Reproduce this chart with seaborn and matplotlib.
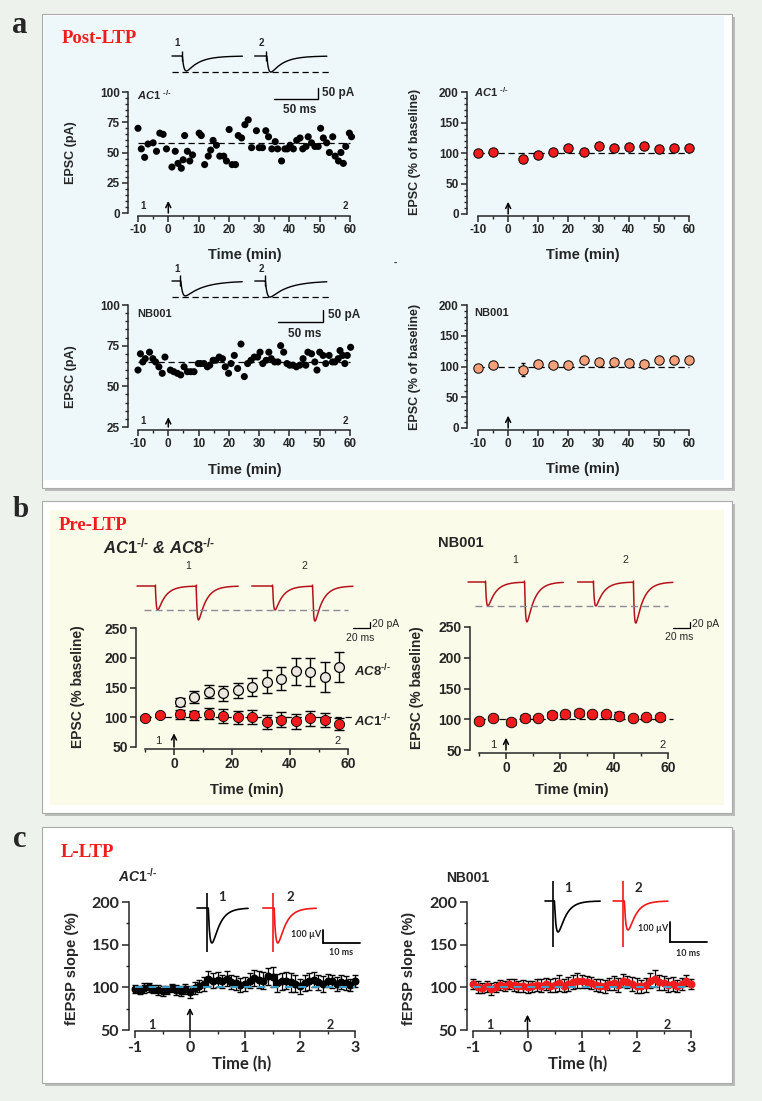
import numpy as np
import pandas as pd
import matplotlib
matplotlib.use("Agg")
import matplotlib.pyplot as plt
import seaborn as sns
from matplotlib.patches import Rectangle
from matplotlib.ticker import MultipleLocator

W, H = 762, 1101

# ---------------- data ----------------
# a) post-LTP, single cell examples (min, pA)
ac1_cell_t = [-10.0, -8.9, -7.8, -6.7, -5.0, -3.9, -2.8, -1.7, -0.6,
              1.2, 2.3, 3.2, 4.3, 4.9, 5.4, 6.3, 7.1, 8.0,
              10.2, 10.9, 12.0, 13.2, 14.0, 14.8, 15.9, 17.0, 18.3, 19.2,
              20.1, 21.1, 22.2, 23.1, 24.2, 25.3, 26.4, 27.5, 29.1,
              30.0, 31.1, 32.2, 33.1, 34.2, 35.3, 36.1, 37.4, 38.5, 39.3,
              40.2, 41.3, 42.4, 43.5, 44.4, 45.5, 46.2, 47.3, 48.4, 49.5,
              50.3, 51.2, 52.3, 53.2, 54.3, 55.1, 56.2, 57.0, 57.8, 58.6, 59.8, 60.5]
ac1_cell_pa = [70, 53, 46, 57, 58, 51, 66, 65, 53,
               38, 51, 41, 37, 44, 64, 51, 43, 48,
               66, 64, 40, 47, 52, 60, 56, 47, 47, 43,
               69, 40, 40, 64, 62, 73, 77, 54, 68,
               54, 54, 68, 63, 53, 59, 53, 43, 53, 53,
               56, 53, 60, 62, 53, 55, 63, 58, 55, 55,
               70, 62, 58, 50, 63, 47, 43, 50, 41, 55, 66, 63]
ac1_cell_mean = 58

nb_cell_t = [-10.0, -9.2, -8.4, -7.6, -6.2, -5.1, -4.2, -3.1, -2.0, -1.1,
             0.7, 1.8, 3.0, 4.1, 5.2, 6.3, 7.4, 8.5, 9.9, 10.7,
             11.8, 12.9, 13.7, 14.8, 15.7, 16.8, 17.9, 18.8, 19.9, 20.7,
             21.8, 22.9, 24.0, 25.1, 26.2, 27.3, 28.4, 29.5, 30.3, 31.2,
             32.3, 33.2, 34.0, 35.1, 36.2, 37.1, 38.1, 39.2, 40.1, 41.2,
             42.3, 43.4, 44.5, 45.4, 46.1, 47.3, 48.4, 49.1, 50.0, 51.1,
             52.0, 53.1, 54.2, 55.0, 56.1, 56.7, 57.6, 58.3, 59.1, 60.2]
nb_cell_pa = [60, 70, 65, 67, 71, 67, 65, 62, 58, 68,
              60, 59, 58, 57, 62, 59, 59, 59, 64, 64,
              64, 62, 63, 66, 66, 68, 67, 62, 58, 64,
              69, 61, 76, 56, 64, 66, 68, 68, 71, 64,
              66, 71, 67, 65, 65, 75, 71, 64, 63, 63,
              62, 63, 67, 63, 71, 70, 65, 60, 71, 69,
              64, 69, 65, 65, 67, 72, 69, 64, 69, 74]
nb_cell_mean = 65

# a) post-LTP, group means (% of baseline)
grp_t = [-10, -5, 5, 10, 15, 20, 25, 30, 35, 40, 45, 50, 55, 60]
ac1_grp = [100, 101, 90, 96, 101, 108, 102, 112, 108, 110, 111, 107, 108, 108]
ac1_grp_err = [3, 3, 5, 5, 4, 5, 4, 5, 5, 5, 5, 4, 4, 4]
nb_grp = [97, 103, 95, 104, 102, 103, 110, 107, 107, 105, 104, 111, 110, 110]
nb_grp_err = [3, 3, 11, 4, 4, 4, 4, 4, 4, 4, 4, 4, 4, 4]

# b) pre-LTP (% baseline)
pre_t = [-10, -5, 2, 7, 12, 17, 22, 27, 32, 37, 42, 47, 52, 57]
pre_ac1 = [99, 103, 105, 103, 106, 102, 100, 100, 92, 96, 93, 98, 95, 88]
pre_ac1_err = [3, 3, 8, 7, 9, 12, 11, 12, 12, 12, 12, 12, 12, 10]
pre_ac8_t = [2, 7, 12, 17, 22, 27, 32, 37, 42, 47, 52, 57]
pre_ac8 = [126, 134, 143, 140, 145, 151, 160, 165, 177, 176, 168, 184]
pre_ac8_err = [7, 10, 11, 13, 12, 15, 19, 20, 22, 23, 25, 25]
pre_nb = [97, 102, 95, 102, 102, 107, 108, 110, 108, 108, 106, 102, 103, 103]
pre_nb_err = [3, 4, 5, 5, 4, 5, 4, 5, 4, 4, 5, 4, 4, 4]

# c) L-LTP, fEPSP slope (%), one point every 5 min
lltp_min = list(range(-60, 181, 5))
lltp_ac1 = [98, 97, 99, 100, 98, 97, 96, 97, 99, 97,
            96, 98, 95, 99, 102, 104, 110, 108, 109, 107,
            110, 106, 105, 103, 104, 108, 111, 109, 108, 113,
            112, 105, 107, 108, 106, 104, 101, 105, 107, 109,
            106, 104, 108, 107, 104, 106, 105, 103, 107]
lltp_ac1_err = [5, 5, 6, 5, 5, 6, 6, 5, 5, 6,
                6, 6, 7, 7, 7, 8, 9, 9, 9, 8,
                9, 8, 8, 8, 8, 9, 9, 10, 10, 10,
                12, 11, 10, 10, 11, 10, 9, 9, 10, 9,
                9, 9, 8, 8, 8, 8, 8, 7, 7]
lltp_nb = [104, 100, 99, 101, 98, 100, 103, 102, 104, 103,
           101, 102, 100, 101, 103, 102, 104, 102, 103, 105,
           102, 104, 106, 108, 107, 106, 105, 103, 102, 101,
           104, 105, 103, 108, 106, 104, 102, 101, 103, 108,
           110, 106, 105, 103, 104, 102, 104, 108, 104]
lltp_nb_err = [6, 7, 6, 6, 7, 6, 6, 6, 6, 7,
               6, 7, 7, 7, 7, 8, 7, 8, 8, 9,
               8, 8, 8, 9, 8, 7, 7, 7, 8, 8,
               7, 8, 8, 8, 7, 8, 9, 8, 8, 9,
               10, 9, 8, 8, 8, 7, 7, 6, 6]

# example traces: onset (ms), peak amplitude, time span (ms)
a_top_onset, a_top_amp, a_top_span = [11, 107], [68, 73], [(0, 80), (94, 176)]
a_bot_onset, a_bot_amp, a_bot_span = [9, 103], [62, 67], [(0, 78), (92, 172)]
b_l_onset, b_l_amp, b_l_span = [(21, 69), (159, 206)], [(80, 113), (80, 117)], [(0, 119), (135, 254)]
b_r_onset, b_r_amp, b_r_span = [(20, 66), (147, 194)], [(80, 133), (80, 137)], [(0, 112), (129, 241)]
c_l_onset, c_l_amp, c_l_span = [2.7, 20.5], [269, 269], [(0, 13.8), (17.8, 32.2)]
c_r_onset, c_r_amp, c_r_span = [2.2, 21.1], [155, 145], [(0, 14.9), (18.4, 33.2)]

RED = "#ee1c1c"
ORANGE = "#f4a07a"
DARKRED = "#b3141c"
CYAN = "#3fa0c8"
KO = "\u2010/\u2010"

sns.set_style("ticks")
plt.rcParams["font.family"] = ["Liberation Sans", "DejaVu Sans"]
plt.rcParams["font.weight"] = "bold"
plt.rcParams["axes.labelweight"] = "bold"
plt.rcParams["axes.unicode_minus"] = False
plt.rcParams["mathtext.fontset"] = "custom"
plt.rcParams["mathtext.it"] = "Liberation Sans:italic:bold"
plt.rcParams["mathtext.rm"] = "Liberation Sans:bold"
plt.rcParams["mathtext.bf"] = "Liberation Sans:bold"

fig = plt.figure(figsize=(W / 100, H / 100), dpi=100, facecolor="#edf2ec")


def ftext(x, y, s, **kw):
    return fig.text(x / W, 1 - y / H, s, **kw)


def make_axes(box, xmap, ymap):
    x0, y0, x1, y1 = box
    ax = fig.add_axes([x0 / W, 1 - y1 / H, (x1 - x0) / W, (y1 - y0) / H])
    (dx0, px0), (dx1, px1) = xmap
    sx = (dx1 - dx0) / (px1 - px0)
    ax.set_xlim(dx0 + (x0 - px0) * sx, dx0 + (x1 - px0) * sx)
    (dy0, py0), (dy1, py1) = ymap
    sy = (dy1 - dy0) / (py1 - py0)
    ax.set_ylim(dy0 + (y1 - py0) * sy, dy0 + (y0 - py0) * sy)
    ax.patch.set_alpha(0)
    return ax


def style(ax, xb, yb, xmaj, xmin, ymaj, ymin, fs, xstart=None):
    sns.despine(ax=ax)
    ax.spines["left"].set_bounds(*yb)
    ax.spines["bottom"].set_bounds(*xb)
    for s in ("left", "bottom"):
        ax.spines[s].set_linewidth(1.1)
    xs = xb[0] if xstart is None else xstart
    ax.set_xticks(np.arange(xs, xb[1] + 1e-6, xmaj))
    ax.xaxis.set_minor_locator(MultipleLocator(xmin))
    ax.set_yticks(np.arange(yb[0], yb[1] + 1e-6, ymaj))
    if ymin:
        ax.yaxis.set_minor_locator(MultipleLocator(ymin))
    ax.tick_params(which="major", length=4, width=1.1, direction="out", labelsize=fs, pad=2)
    ax.tick_params(which="minor", length=2.5, width=1.0, direction="out")


def put_labels(ax, xl, xl_px, yl, yl_px, fs_x, fs_y):
    ax.set_xlabel(xl, fontsize=fs_x, va="center")
    ax.set_ylabel(yl, fontsize=fs_y, va="center")
    inv = ax.transAxes.inverted()
    ax.xaxis.set_label_coords(*inv.transform((xl_px[0], H - xl_px[1])))
    ax.yaxis.set_label_coords(*inv.transform((yl_px[0], H - yl_px[1])))


def arrow(ax, tip, base):
    ax.annotate("", xy=(0, tip), xytext=(0, base),
                arrowprops=dict(arrowstyle="->", lw=1.1, color="black",
                                shrinkA=0, shrinkB=0, mutation_scale=9))


def psc(t, onset, amp, rise, decay):
    s = np.clip(np.asarray(t) - onset, 0, None)
    tp = rise * decay / (decay - rise) * np.log(decay / rise)
    peak = np.exp(-tp / decay) - np.exp(-tp / rise)
    return -amp * (np.exp(-s / decay) - np.exp(-s / rise)) / peak


def trace_axes(box, xmap, ymap):
    ax = make_axes(box, xmap, ymap)
    ax.axis("off")
    return ax


def scalebar(ax, x, y, dx, dy, color="black", lw=1.0):
    ax.plot([x, x + dx, x + dx], [y, y, y + dy], color=color, lw=lw,
            solid_joinstyle="miter", clip_on=False)


# ---------------- panel frames ----------------
def frame(x0, y0, x1, y1, inner, inset):
    fig.add_artist(Rectangle(((x0 + 3) / W, 1 - (y1 + 3) / H), (x1 - x0) / W, (y1 - y0) / H,
                             transform=fig.transFigure, facecolor="#b9bcb9",
                             edgecolor="none", zorder=-3))
    fig.add_artist(Rectangle((x0 / W, 1 - y1 / H), (x1 - x0) / W, (y1 - y0) / H,
                             transform=fig.transFigure, facecolor="white",
                             edgecolor="#a8aaa8", lw=0.8, zorder=-2))
    l, t, r, b = inset
    fig.add_artist(Rectangle(((x0 + l) / W, 1 - (y1 - b) / H), (x1 - x0 - l - r) / W,
                             (y1 - y0 - t - b) / H, transform=fig.transFigure,
                             facecolor=inner, edgecolor="none", zorder=-1))


frame(42, 14, 732, 488, "#eef8fb", (2, 2, 8, 8))
frame(42, 501, 732, 813, "#fbfbe9", (8, 9, 8, 8))
frame(42, 827, 732, 1083, "white", (2, 2, 2, 2))

ftext(12, 33, "a", fontsize=22, family="Liberation Serif", weight="bold", va="baseline")
ftext(13, 517, "b", fontsize=21, family="Liberation Serif", weight="bold", va="baseline")
ftext(13, 847, "c", fontsize=22, family="Liberation Serif", weight="bold", va="baseline")
ftext(62, 43, "Post-LTP", fontsize=13.5, family="Liberation Serif", weight="bold", color=RED, va="baseline")
ftext(59, 530, "Pre-LTP", fontsize=13.5, family="Liberation Serif", weight="bold", color=RED, va="baseline")
ftext(61, 857, "L-LTP", fontsize=13.5, family="Liberation Serif", weight="bold", color=RED, va="baseline")

# ---------------- panel a ----------------
cells = [
    (ac1_cell_t, ac1_cell_pa, ac1_cell_mean, (128, 88, 356, 216), ((0, 213), (100, 92)), (0, 100),
     r"$\mathit{AC1}$ $^{\mathit{" + KO + "}}$", 100, 255, (71, 153), 10),
    (nb_cell_t, nb_cell_pa, nb_cell_mean, (128, 300, 356, 430), ((25, 427), (100, 305)), (25, 100),
     "NB001", 317, 470, (71, 377), 31),
]
for t, pa, mean, box, ymap, yb, name, name_y, xl_y, yl_px, tip in cells:
    ax = make_axes(box, ((-10, 138), (60, 350)), ymap)
    style(ax, (-10, 60), yb, 10, 5, 25, 5, 8.5)
    ax.hlines(mean, -10, 60, colors="black", linestyles=(0, (5, 3)), lw=0.9)
    sns.scatterplot(x=t, y=pa, ax=ax, color="black", s=26, edgecolor="none", legend=False, zorder=3)
    put_labels(ax, "Time (min)", (245, xl_y), "EPSC (pA)", yl_px, 10.5, 9)
    arrow(ax, tip, yb[0])
    ftext(137, name_y, name, fontsize=8, va="baseline")

ftext(143, 206, "1", fontsize=7, ha="center", va="center")
ftext(345, 206, "2", fontsize=7, ha="center", va="center")
ftext(143, 421, "1", fontsize=7, ha="center", va="center")
ftext(345, 421, "2", fontsize=7, ha="center", va="center")

groups = [
    (ac1_grp, ac1_grp_err, RED, (467, 88, 695, 216), ((0, 214), (200, 92)),
     r"$\mathit{AC1}$ $^{\mathit{" + KO + "}}$", 97, 255, (415, 152)),
    (nb_grp, nb_grp_err, ORANGE, (467, 300, 695, 430), ((0, 428), (200, 305)),
     "NB001", 316, 469, (415, 367)),
]
for vals, err, col, box, ymap, name, name_y, xl_y, yl_px in groups:
    ax = make_axes(box, ((-10, 478), (60, 689)), ymap)
    style(ax, (-10, 60), (0, 200), 10, 5, 50, 10, 8.5)
    ax.hlines(100, -10, 60, colors="black", linestyles=(0, (5, 3)), lw=0.9)
    ax.errorbar(grp_t, vals, yerr=err, fmt="none", ecolor="black", elinewidth=0.8, capsize=1.5, zorder=2)
    df = pd.DataFrame({"t": grp_t, "v": vals})
    sns.scatterplot(data=df, x="t", y="v", ax=ax, color=col, s=46, edgecolor="black",
                    linewidth=0.7, legend=False, zorder=3)
    put_labels(ax, "Time (min)", (583, xl_y), "EPSC (% of baseline)", yl_px, 10.5, 9)
    arrow(ax, 20, 0)
    ftext(474, name_y, name, fontsize=8, va="baseline")

ftext(395, 263, "-", fontsize=7, ha="center", va="center")

# example EPSC traces, panel a
for onsets, amps, spans, decay, xmap, ymap, box, bar, lab in [
    (a_top_onset, a_top_amp, a_top_span, 14, ((0, 172), (50, 216)), ((0, 56), (-50, 67)),
     (160, 30, 345, 115), (116, -195), 43),
    (a_bot_onset, a_bot_amp, a_bot_span, 20, ((0, 172), (50, 217)), ((0, 281), (-50, 293)),
     (160, 262, 345, 340), (118, -171), 269),
]:
    tax = trace_axes(box, xmap, ymap)
    for on, amp, (t0, t1) in zip(onsets, amps, spans):
        tt = np.linspace(t0, t1, 400)
        tax.plot(tt, psc(tt, on + 0.8, amp, 2.0, decay), color="black", lw=1.0)
        tax.vlines(on, -22, 24, colors="black", lw=1.0)
    tax.hlines(-max(amps), spans[0][0], spans[1][1] + 4, colors="black",
               linestyles=(0, (5, 3)), lw=0.9)
    scalebar(tax, bar[0], bar[1], 50, 50)
    tax.text(bar[0] + 55, bar[1] + 28, "50 pA", fontsize=8.5, va="center", ha="left")
    tax.text(bar[0] + 29, bar[1] - 50, "50 ms", fontsize=8.5, va="center", ha="center")
    ftext(177, lab, "1", fontsize=7, ha="center", va="center")
    ftext(261, lab, "2", fontsize=7, ha="center", va="center")

# ---------------- panel b ----------------
ax = make_axes((136, 624, 356, 749), ((0, 174), (60, 348)), ((50, 747), (250, 628)))
style(ax, (-10, 60), (50, 250), 20, 10, 50, None, 10, xstart=0)
ax.hlines(100, -10, 62, colors="black", linestyles=(0, (5, 3)), lw=0.9)
ax.errorbar(pre_ac8_t, pre_ac8, yerr=pre_ac8_err, fmt="none", ecolor="black", elinewidth=1.0, capsize=3.5, zorder=2)
ax.errorbar(pre_t, pre_ac1, yerr=pre_ac1_err, fmt="none", ecolor="black", elinewidth=1.0, capsize=3.5, zorder=2)
sns.scatterplot(x=pre_ac8_t, y=pre_ac8, ax=ax, color="#ebe7de", s=50, edgecolor="black",
                linewidth=0.9, legend=False, zorder=3)
sns.scatterplot(x=pre_t, y=pre_ac1, ax=ax, color=RED, s=54, edgecolor="black",
                linewidth=0.6, legend=False, zorder=4)
put_labels(ax, "Time (min)", (247, 790), "EPSC (% baseline)", (78, 687), 10.5, 10)
arrow(ax, 73, 50)
ftext(158, 741, "1", fontsize=8, ha="center", va="center", weight="normal")
ftext(338, 741, "2", fontsize=8, ha="center", va="center", weight="normal")
ftext(354, 671, r"$\mathit{AC8}^{\mathit{" + KO + "}}$", fontsize=9.5, va="center")
ftext(354, 721, r"$\mathit{AC1}^{\mathit{" + KO + "}}$", fontsize=9.5, va="center")
ftext(103, 553, r"$\mathit{AC1}^{\mathit{" + KO + r"}}$ & $\mathit{AC8}^{\mathit{" + KO + "}}$",
      fontsize=12, va="baseline", style="italic")

ax = make_axes((470, 622, 675, 753), ((0, 506), (60, 668)), ((50, 750), (250, 627)))
style(ax, (-10, 60), (50, 250), 20, 10, 50, None, 10, xstart=0)
ax.hlines(100, -10, 62, colors="black", linestyles=(0, (5, 3)), lw=0.9)
ax.errorbar(pre_t, pre_nb, yerr=pre_nb_err, fmt="none", ecolor="black", elinewidth=1.0, capsize=3.5, zorder=2)
sns.scatterplot(x=pre_t, y=pre_nb, ax=ax, color=RED, s=58, edgecolor="black",
                linewidth=0.6, legend=False, zorder=4)
put_labels(ax, "Time (min)", (572, 790), "EPSC (% baseline)", (417, 688), 10.5, 10)
arrow(ax, 70, 50)
ftext(493, 745, "1", fontsize=8, ha="center", va="center", weight="normal")
ftext(663, 745, "2", fontsize=8, ha="center", va="center", weight="normal")
ftext(438, 547, "NB001", fontsize=10.5, va="baseline")

# paired-pulse example traces, panel b
for onsets, amps, spans, xmap, ymap, box, bar, labx, laby in [
    (b_l_onset, b_l_amp, b_l_span, ((0, 137), (20, 154)), ((0, 586), (-20, 592)),
     (130, 555, 400, 645), (254, -140), (188, 304), 566),
    (b_r_onset, b_r_amp, b_r_span, ((0, 468), (20, 485)), ((0, 582), (-20, 588)),
     (460, 555, 720, 645), (241, -153), (515, 625), 560),
]:
    tax = trace_axes(box, xmap, ymap)
    for (on1, on2), (a1, a2), (t0, t1) in zip(onsets, amps, spans):
        tt = np.linspace(t0, t1, 600)
        first = psc(tt, on1 + 0.6, a1, 1.2, 9.0)
        resid = -psc(on2 + 2.5, on1 + 0.6, a1, 1.2, 9.0)
        second = psc(tt, on2 + 0.6, a2 - resid, 1.2, 9.0)
        tax.plot(tt, first + second, color=DARKRED, lw=1.1)
        for on in (on1, on2):
            tax.vlines(on, -4, 8, colors=DARKRED, lw=1.0)
    tax.hlines(-amps[0][0], spans[0][0] + 8, spans[1][1] - 6, colors="#8a8a96",
               linestyles=(0, (5, 3)), lw=1.0)
    scalebar(tax, bar[0], bar[1], 20, 20, lw=0.9)
    tax.text(bar[0] + 22, bar[1] + 12, "20 pA", fontsize=7.5, va="center", ha="left", weight="normal")
    tax.text(bar[0] + 8, bar[1] - 32, "20 ms", fontsize=7.5, va="center", ha="center", weight="normal")
    ftext(labx[0], laby, "1", fontsize=7.5, ha="center", va="center", weight="normal")
    ftext(labx[1], laby, "2", fontsize=7.5, ha="center", va="center", weight="normal")

# ---------------- panel c ----------------
lltp_h = [m / 60 for m in lltp_min]
for vals, err, col, box, xmap, name, name_x, xl_x, yl_x, tip in [
    (lltp_ac1, lltp_ac1_err, "black", (129, 898, 360, 1031), ((-1, 135), (3, 355)),
     r"$\mathit{AC1}^{\mathit{" + KO + "}}$", 118, 242, 72, 76),
    (lltp_nb, lltp_nb_err, RED, (467, 898, 695, 1031), ((-1, 473), (3, 691)),
     "NB001", 446, 578, 409, 68),
]:
    ax = make_axes(box, xmap, ((50, 1030), (200, 902)))
    style(ax, (-1, 3), (50, 200), 1, 0.5, 50, 25, 11.5)
    ax.tick_params(which="major", length=5)
    for lab in ax.get_xticklabels() + ax.get_yticklabels():
        lab.set_fontfamily("Lato")
    ax.errorbar(lltp_h, vals, yerr=err, fmt="none", ecolor="black", elinewidth=0.9, capsize=2.5, zorder=2)
    sns.lineplot(x=lltp_h, y=vals, ax=ax, color=col, lw=1.8, marker="o", markersize=5,
                 markeredgecolor=col, zorder=3)
    ax.hlines(100, -1, 3, colors=CYAN, linestyles=(0, (4, 3)), lw=1.4, zorder=4)
    put_labels(ax, "Time (h)", (xl_x, 1064), "fEPSP slope (%)", (yl_x, 968), 12, 10.5)
    ax.xaxis.label.set_fontfamily("Lato")
    arrow(ax, tip, 50)
    ftext(name_x, 882, name, fontsize=10, va="baseline")

ftext(152, 1025, "1", fontsize=9, ha="center", va="center", family="Lato")
ftext(330, 1025, "2", fontsize=9, ha="center", va="center", family="Lato")
ftext(490, 1025, "1", fontsize=9, ha="center", va="center", family="Lato")
ftext(667, 1025, "2", fontsize=9, ha="center", va="center", family="Lato")

# field EPSP example traces, panel c
for onsets, amps, spans, xmap, ymap, box, art, bar, labx, laby, ms_dy in [
    (c_l_onset, c_l_amp, c_l_span, ((0, 197), (10, 234)), ((0, 908), (-100, 921)),
     (185, 880, 370, 960), (115, -338), (34, -269), (222, 290), 897, -70),
    (c_r_onset, c_r_amp, c_r_span, ((0, 545), (10, 582)), ((0, 901), (-100, 921)),
     (535, 870, 715, 960), (100, -232), (33.8, -205), (568, 638), 888, -55),
]:
    tax = trace_axes(box, xmap, ymap)
    for on, amp, (t0, t1), col in zip(onsets, amps, spans, ["black", "#f01818"]):
        tt = np.linspace(t0, t1, 400)
        tax.plot(tt, psc(tt, on + 0.35, amp, 0.55, 2.0), color=col, lw=1.2)
        tax.vlines(on, art[1], art[0], colors=col, lw=1.2)
    scalebar(tax, bar[0], bar[1] + 100, 0, -100, lw=1.3)
    tax.plot([bar[0], bar[0] + 10], [bar[1], bar[1]], color="black", lw=1.3)
    tax.text(bar[0] - 0.5, bar[1] + 68, "100 \u00b5V", fontsize=6.5, ha="right", va="center", family="Lato")
    tax.text(bar[0] + 5, bar[1] + ms_dy, "10 ms", fontsize=6.5, ha="center", va="center", family="Lato")
    ftext(labx[0], laby, "1", fontsize=9.5, ha="center", va="center", family="Lato")
    ftext(labx[1], laby, "2", fontsize=9.5, ha="center", va="center", family="Lato")

fig.savefig("out.png", dpi=100, facecolor=fig.get_facecolor())
